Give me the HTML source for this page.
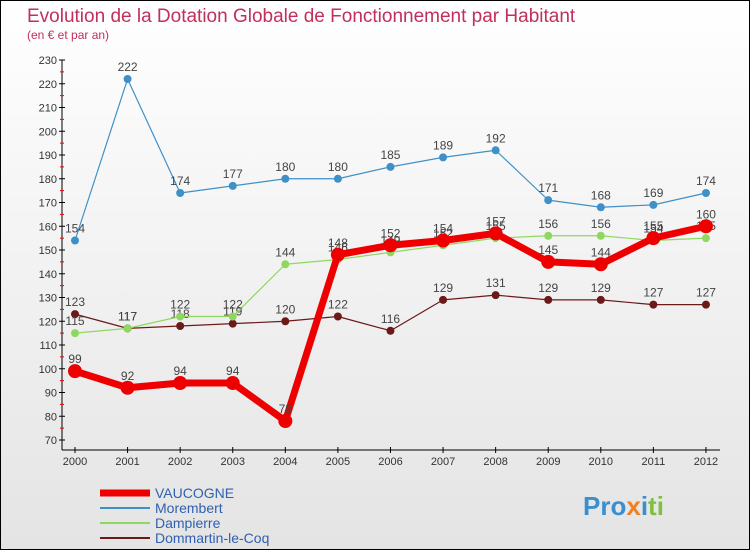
<!DOCTYPE html>
<html><head><meta charset="utf-8"><style>
html,body{margin:0;padding:0}
body{width:750px;height:550px;overflow:hidden;font-family:"Liberation Sans",sans-serif}
#wrap{position:absolute;left:0;top:0;width:748px;height:548px;border:1px solid #000;background:linear-gradient(#ffffff,#e4e4e4)}
</style></head><body>
<div id="wrap">
<svg id="chart" width="750" height="550" style="position:absolute;left:-1px;top:-1px">
<text x="27" y="22" font-size="19" fill="#c0305a">Evolution de la Dotation Globale de Fonctionnement par Habitant</text>
<text x="27" y="39" font-size="12" fill="#c0305a">(en € et par an)</text>
<g id="axes"></g>
<g id="series"></g>
<g id="legend"></g>
<text x="583" y="515" font-size="26" font-weight="bold" fill="#3a8fd0">Pro<tspan fill="#f08020">x</tspan><tspan fill="#3a8fd0">i</tspan><tspan fill="#80c040">ti</tspan></text>
</svg>
</div>
<script>
const years=["2000","2001","2002","2003","2004","2005","2006","2007","2008","2009","2010","2011","2012"];
const yTicks=[70,80,90,100,110,120,130,140,150,160,170,180,190,200,210,220,230];
const vaucogne=[99,92,94,94,78,148,152,154,157,145,144,155,160];
const morembert=[154,222,174,177,180,180,185,189,192,171,168,169,174];
const dampierre=[115,117,122,122,144,146,149,152,155,156,156,154,155];
const dommartin=[123,117,118,119,120,122,116,129,131,129,129,127,127];
const NS="http://www.w3.org/2000/svg";
const xS=i=>75+i*52.58;
const yS=v=>440-(v-70)*2.375;
function mk(tag,attrs,parent){const e=document.createElementNS(NS,tag);for(const k in attrs)e.setAttribute(k,attrs[k]);parent.appendChild(e);return e;}
const ax=document.getElementById('axes');
const yl=mk('line',{x1:62,y1:60,x2:62,y2:450,stroke:'#000','stroke-width':1},ax);


const xl=mk('line',{x1:62,y1:450,x2:720,y2:450,stroke:'#000','stroke-width':1},ax);


yTicks.forEach(v=>{
 mk('line',{x1:59,y1:yS(v),x2:65,y2:yS(v),stroke:'#000'},ax);
 if(v<230) mk('line',{x1:60,y1:yS(v+5),x2:64,y2:yS(v+5),stroke:'#e00'},ax);
 const t=mk('text',{x:57,y:yS(v)+4,'font-size':11,fill:'#333','text-anchor':'end'},ax);
 t.textContent=v;
 
 
});
years.forEach((y,i)=>{
 mk('line',{x1:xS(i),y1:447,x2:xS(i),y2:453,stroke:'#000'},ax);
 const t=mk('text',{x:xS(i),y:465,'font-size':11,fill:'#333','text-anchor':'middle'},ax);
 t.textContent=y;
 
 
});
const sg=document.getElementById('series');
function draw(data,color,w,r,name){
 const g=mk('g',{},sg);
 
 
 mk('polyline',{points:data.map((v,i)=>xS(i)+','+yS(v)).join(' '),fill:'none',stroke:color,'stroke-width':w,'stroke-linejoin':'round'},g);
 data.forEach((v,i)=>{
  const c=mk('circle',{cx:xS(i),cy:yS(v),r:r,fill:color},g);
  
  
  const t=mk('text',{x:xS(i),y:yS(v)-8,'font-size':12,fill:'#444','text-anchor':'middle'},g);
  t.textContent=v;
  
  
 });
}
draw(dommartin,'#6b1a1a',1.2,4,'dommartin');
draw(dampierre,'#8fd860',1.2,4,'dampierre');
draw(vaucogne,'#ee0000',7,7,'vaucogne');
draw(morembert,'#4090c8',1.2,4,'morembert');
const lg=document.getElementById('legend');
const items=[["VAUCOGNE","#ee0000",7],["Morembert","#4090c8",2],["Dampierre","#8fd860",2],["Dommartin-le-Coq","#6b1a1a",2]];
items.forEach((it,k)=>{
 const y=493+k*15;
 mk('line',{x1:100,y1:y,x2:150,y2:y,stroke:it[1],'stroke-width':it[2]},lg);
 const t=mk('text',{x:155,y:y+5,'font-size':14,fill:'#3060b0'},lg);
 t.textContent=it[0];
 
 
});
</script>
</body></html>
